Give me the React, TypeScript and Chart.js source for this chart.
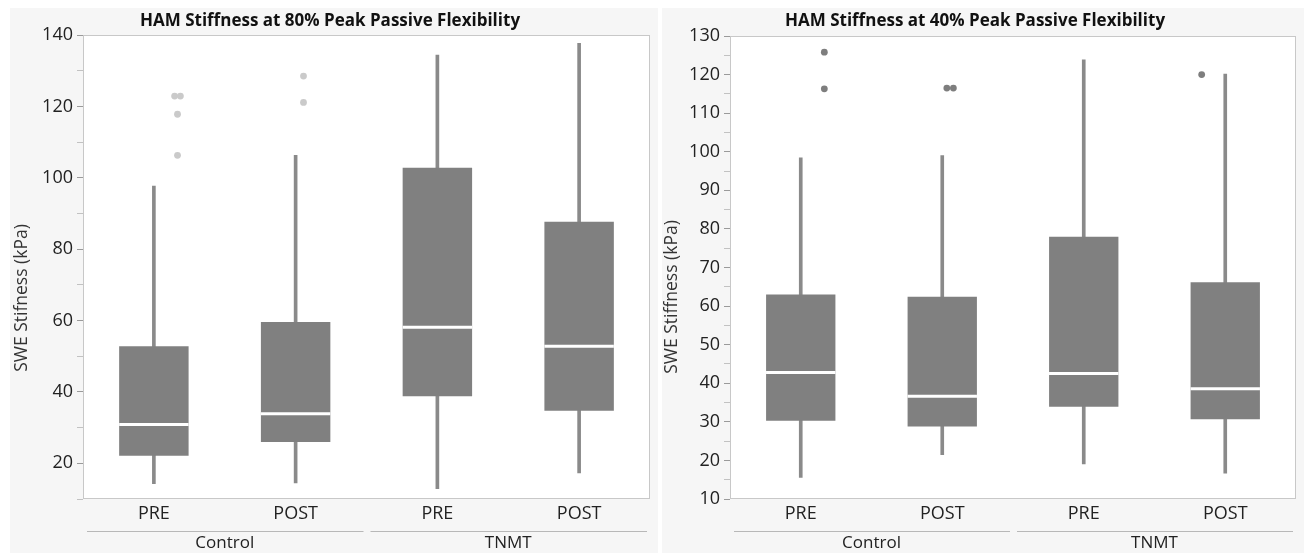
import React, { useEffect, useRef } from "react";
import { Chart, registerables } from "chart.js";

Chart.register(...registerables);

const FONT = '"Open Sans", "Noto Sans", sans-serif';

const categories = ["PRE", "POST", "PRE", "POST"];
const groups = ["Control", "TNMT"];

// HAM Stiffness at 80% Peak Passive Flexibility
const p80Min = [14.3, 14.5, 12.9, 17.3];
const p80Q1 = [22.1, 26.0, 38.8, 34.7];
const p80Median = [30.9, 33.9, 58.1, 52.8];
const p80Q3 = [52.8, 59.6, 102.8, 87.7];
const p80Max = [97.7, 106.3, 134.4, 137.7];
const p80OutX = [-0.023, 0.023, 0, 0, 1, 1];
const p80OutY = [122.9, 122.9, 117.8, 106.3, 128.5, 121.1];

// HAM Stiffness at 40% Peak Passive Flexibility
const p40Min = [15.6, 21.5, 19.1, 16.7];
const p40Q1 = [30.3, 28.8, 33.9, 30.7];
const p40Median = [42.8, 36.6, 42.5, 38.6];
const p40Q3 = [63.0, 62.4, 78.0, 66.2];
const p40Max = [98.4, 99.0, 123.8, 120.1];
const p40OutX = [0, 0, 0.974, 1.026, 3];
const p40OutY = [125.8, 116.3, 116.5, 116.5, 120.0];

type Spec = {
  title: string;
  yTitle: string;
  min: number[];
  q1: number[];
  median: number[];
  q3: number[];
  max: number[];
  outX: number[];
  outY: number[];
  outColor: string;
  yMin: number;
  yMax: number;
  step: number;
  labelStep: number;
  yWidth: number;
  padTop: number;
  yTitleX: number;
  yTitleY: number;
};

const panelPlugin = {
  id: "panel",
  beforeDraw(chart: any) {
    const { ctx, chartArea: a } = chart;
    ctx.save();
    ctx.fillStyle = "#ffffff";
    ctx.fillRect(a.left, a.top, a.right - a.left, a.bottom - a.top);
    ctx.restore();
  },
  afterDraw(chart: any, _args: any, opts: any) {
    const { ctx, chartArea: a, width } = chart;
    ctx.save();
    ctx.strokeStyle = "#c8c8c8";
    ctx.lineWidth = 1;
    ctx.strokeRect(a.left + 0.5, a.top + 0.5, a.right - a.left - 1, a.bottom - a.top - 1);

    // title
    ctx.fillStyle = "#111111";
    ctx.font = `bold 17px ${FONT}`;
    ctx.textAlign = "center";
    ctx.textBaseline = "middle";
    ctx.fillText(opts.title, width / 2 + opts.titleShift, 13);

    // y title
    ctx.save();
    ctx.translate(opts.yTitleX, opts.yTitleY);
    ctx.rotate(-Math.PI / 2);
    ctx.fillStyle = "#333333";
    ctx.font = `17.5px ${FONT}`;
    ctx.fillText(opts.yTitle, 0, 0);
    ctx.restore();

    // group separator lines
    const xs = chart.scales.xg;
    const half = (a.right - a.left) / 4;
    ctx.strokeStyle = "#b8b8b8";
    ctx.lineWidth = 1;
    for (let i = 0; i < groups.length; i++) {
      const c = xs.getPixelForValue(i);
      ctx.beginPath();
      ctx.moveTo(c - half + 4, xs.top + 2.5);
      ctx.lineTo(c + half - 3, xs.top + 2.5);
      ctx.stroke();
    }
    ctx.restore();
  },
};

function makeConfig(s: Spec, titleShift: number): any {
  const outliers = s.outX.map((x, i) => ({ x, y: s.outY[i] }));
  return {
    type: "bar",
    data: {
      labels: categories,
      datasets: [
        {
          type: "scatter",
          data: outliers,
          xAxisID: "xo",
          yAxisID: "y",
          order: 0,
          pointRadius: 3.4,
          pointBackgroundColor: s.outColor,
          backgroundColor: s.outColor,
          borderWidth: 0,
          pointBorderWidth: 0,
        },
        {
          type: "line",
          data: s.median,
          xAxisID: "x",
          yAxisID: "y",
          showLine: false,
          order: 1,
          pointStyle: "line",
          pointRadius: 34.7,
          borderColor: "#ffffff",
          pointBorderColor: "#ffffff",
          pointBorderWidth: 3,
        },
        {
          type: "bar",
          data: s.q1.map((q, i) => [q, s.q3[i]]),
          xAxisID: "x",
          yAxisID: "y",
          order: 2,
          grouped: false,
          barPercentage: 0.49,
          categoryPercentage: 1,
          backgroundColor: "#808080",
          borderWidth: 0,
        },
        {
          type: "bar",
          data: s.min.map((m, i) => [m, s.max[i]]),
          xAxisID: "x",
          yAxisID: "y",
          order: 3,
          grouped: false,
          barThickness: 3,
          backgroundColor: "#8a8a8a",
          borderWidth: 0,
        },
      ],
    },
    options: {
      animation: false,
      responsive: false,
      events: [],
      layout: { autoPadding: false, padding: { top: s.padTop, right: 8, bottom: 0, left: 0 } },
      plugins: {
        legend: { display: false },
        tooltip: { enabled: false },
        title: { display: false },
        panel: { title: s.title, titleShift, yTitle: s.yTitle, yTitleX: s.yTitleX, yTitleY: s.yTitleY },
      },
      scales: {
        x: {
          type: "category",
          position: "bottom",
          offset: true,
          weight: 0,
          grid: { display: false, drawTicks: false },
          border: { display: false },
          ticks: { color: "#222222", font: { family: FONT, size: 18 }, padding: 4, maxRotation: 0, autoSkip: false },
          afterFit: (sc: any) => {
            sc.height = 30;
          },
        },
        xg: {
          type: "category",
          labels: groups,
          position: "bottom",
          offset: true,
          weight: 1,
          grid: { display: false, drawTicks: false },
          border: { display: false },
          ticks: { color: "#222222", font: { family: FONT, size: 17 }, padding: 4, maxRotation: 0, autoSkip: false },
          afterFit: (sc: any) => {
            sc.height = 24;
          },
        },
        xo: { type: "linear", min: -0.5, max: 3.5, display: false },
        y: {
          type: "linear",
          min: s.yMin,
          max: s.yMax,
          grid: {
            drawOnChartArea: false,
            drawTicks: true,
            tickLength: 6,
            tickColor: (c: any) => (c.tick && c.tick.value % s.labelStep === 0 ? "#9a9a9a" : "#c2c2c2"),
          },
          border: { display: false },
          ticks: {
            stepSize: s.step,
            autoSkip: false,
            color: "#222222",
            font: { family: FONT, size: 18 },
            padding: 4,
            callback: (v: any) => (Number(v) % s.labelStep === 0 ? String(v) : ""),
          },
          afterFit: (sc: any) => {
            sc.width = s.yWidth;
          },
        },
      },
    },
    plugins: [panelPlugin],
  };
}

function Panel(props: { spec: Spec; left: number; width: number; titleShift: number }) {
  const ref = useRef<HTMLCanvasElement | null>(null);
  useEffect(() => {
    if (!ref.current) return;
    const chart = new Chart(ref.current, makeConfig(props.spec, props.titleShift));
    return () => chart.destroy();
  }, []);
  return (
    <div
      style={{
        position: "absolute",
        left: props.left,
        top: 8,
        width: props.width,
        height: 545,
        background: "#f6f6f6",
      }}
    >
      <canvas ref={ref} width={props.width} height={545} style={{ display: "block" }} />
    </div>
  );
}

const spec80: Spec = {
  title: "HAM Stiffness at 80% Peak Passive Flexibility",
  yTitle: "SWE Stifness (kPa)",
  min: p80Min,
  q1: p80Q1,
  median: p80Median,
  q3: p80Q3,
  max: p80Max,
  outX: p80OutX,
  outY: p80OutY,
  outColor: "#cacaca",
  yMin: 10,
  yMax: 140,
  step: 10,
  labelStep: 20,
  yWidth: 73,
  padTop: 27,
  yTitleX: 12,
  yTitleY: 290,
};

const spec40: Spec = {
  title: "HAM Stiffness at 40% Peak Passive Flexibility",
  yTitle: "SWE Stiffness (kPa)",
  min: p40Min,
  q1: p40Q1,
  median: p40Median,
  q3: p40Q3,
  max: p40Max,
  outX: p40OutX,
  outY: p40OutY,
  outColor: "#7e7e7e",
  yMin: 10,
  yMax: 130,
  step: 5,
  labelStep: 10,
  yWidth: 68,
  padTop: 28,
  yTitleX: 10,
  yTitleY: 289,
};

export default function App() {
  return (
    <div style={{ position: "fixed", left: 0, top: 0, width: 1304, height: 553, background: "#ffffff" }}>
      <Panel spec={spec80} left={10} width={648} titleShift={-4} />
      <Panel spec={spec40} left={662} width={642} titleShift={-8} />
    </div>
  );
}
